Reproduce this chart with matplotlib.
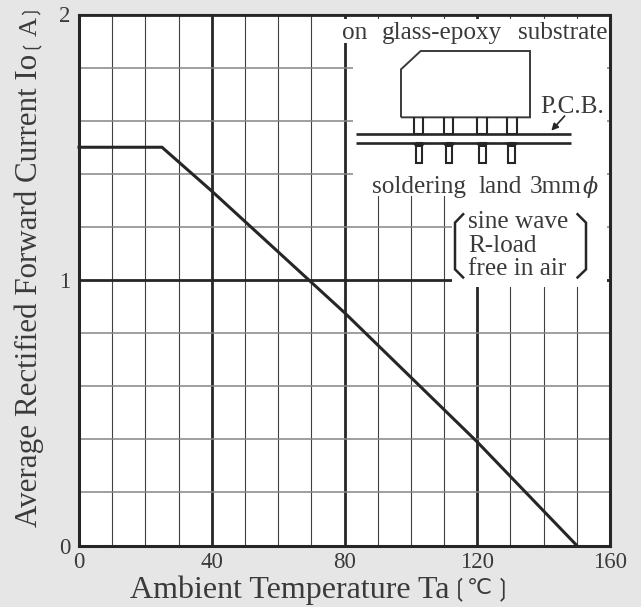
import matplotlib
matplotlib.use('Agg')
import matplotlib.pyplot as plt

temp = [0, 25, 40, 80, 120, 150]
current = [1.5, 1.5, 1.335, 0.877, 0.39, 0]
xticks = [0, 40, 80, 120, 160]
yticks = [0, 1, 2]
xminor = [10, 20, 30, 50, 60, 70, 90, 100, 110, 130, 140, 150]
yminor = [0.2, 0.4, 0.6, 0.8, 1.2, 1.4, 1.6, 1.8]

W, H = 641, 607
dark = '#262626'
txt = '#3a3a3a'
plt.rcParams['font.family'] = ['Liberation Serif', 'DejaVu Sans', 'Noto Sans CJK JP']

fig = plt.figure(figsize=(W / 100, H / 100), dpi=100, facecolor='#e6e6e6')
ax = fig.add_axes([79 / W, 1 - 545.5 / H, 531 / W, 531 / H])
ax.set_xlim(0, 160)
ax.set_ylim(0, 2)

ax.set_xticks(xticks)
ax.set_yticks(yticks)
ax.set_xticks(xminor, minor=True)
ax.set_yticks(yminor, minor=True)
ax.tick_params(which='both', length=0)
ax.tick_params(axis='x', pad=4.5, labelsize=16.5, labelcolor=txt)
ax.tick_params(axis='y', pad=6, labelsize=16.5, labelcolor=txt)
ax.grid(True, which='major', color=dark, lw=2)
ax.grid(True, which='minor', color='#404040', lw=0.8)
ax.set_axisbelow(True)

# some printed grid lines came out paler
for t in ax.xaxis.get_minor_ticks():
    if t.get_loc() in (20, 50, 70, 100, 150):
        t.gridline.set_color('#8c8c8c')
        t.gridline.set_linewidth(1.1)
for t in ax.yaxis.get_minor_ticks():
    if t.get_loc() < 1:
        t.gridline.set_color('#858585')
        t.gridline.set_linewidth(1.1)
    else:
        t.gridline.set_color('#555555')

for name, s in ax.spines.items():
    s.set_linewidth(1.5 if name == 'top' else 2.2)
    s.set_color(dark)

ax.plot(temp, current, color=dark, lw=2.2, solid_joinstyle='miter', clip_on=False, zorder=3)

# overlay in pixel coords for the inset drawing and notes
ov = fig.add_axes([0, 0, 1, 1], facecolor='none')
ov.set_xlim(0, W)
ov.set_ylim(H, 0)
ov.axis('off')

# white areas that hide the grid behind the notes
ov.fill_between([353, 606.5], 19, 196, color='white', lw=0)
ov.fill_between([452, 606.5], 196, 287, color='white', lw=0)
ov.fill_between([341, 353], 19, 43, color='white', lw=0)


def zx(v):
    return 330 + v / 3


def zy(v):
    return v / 3


def poly(xs, ys, lw=1.3, color='#3a3a3a', **kw):
    ov.plot([zx(v) for v in xs], [zy(v) for v in ys], color=color, lw=lw,
            solid_joinstyle='miter', solid_capstyle='butt', **kw)


# package body
poly([213, 213, 272, 600, 600, 213], [352, 208, 153, 153, 352, 352], lw=1.4)
# pins above and below the board
for a in [252, 342, 442, 532]:
    poly([a, a, a + 28, a + 28], [352, 402, 402, 352], lw=1.5, color=dark)
for a in [257, 347, 447, 535]:
    poly([a, a, a + 20, a + 20, a], [428, 490, 490, 428, 428], lw=1.5, color=dark)
    ov.fill([zx(a - 10), zx(a + 30), zx(a + 20), zx(a)],
            [zy(428), zy(428), zy(441), zy(441)], color=dark, lw=0)
# board
poly([78, 722], [402, 402], lw=1.9, color=dark)
poly([78, 722], [428, 428], lw=1.9, color=dark)
ov.annotate('', xy=(zx(664), zy(392)), xytext=(zx(704), zy(348)),
            arrowprops=dict(arrowstyle='-|>', color=dark, lw=1.2, mutation_scale=10,
                            shrinkA=0, shrinkB=0))
# brackets
poly([402, 375, 375, 402], [640, 668, 808, 835], lw=1.8, color=dark)
poly([740, 768, 768, 740], [640, 668, 808, 835], lw=1.8, color=dark)

note = dict(color=txt, fontsize=18.2, va='baseline')
ov.text(zx(37), zy(118), 'on', ha='left', **note)
ov.text(zx(157), zy(118), 'glass-epoxy', ha='left', **note)
ov.text(zx(833), zy(118), 'substrate', ha='right', **note)
ov.text(zx(630), zy(338), 'P.C.B.', ha='left', **note)
ov.text(zx(125), zy(578), 'soldering', ha='left', **note)
ov.text(zx(445), zy(578), 'land', ha='left', **note)
ov.text(zx(598), zy(578), '3mm', ha='left', **note)
ov.text(zx(758), zy(578), 'ϕ', ha='left', color=txt, fontsize=16, style='italic',
        va='baseline', family='DejaVu Serif')
ov.text(zx(415), zy(685), 'sine wave', ha='left', **note)
ov.text(zx(415), zy(755), 'R-load', ha='left', **note)
ov.text(zx(415), zy(825), 'free in air', ha='left', **note)

# axis titles, bracket parts placed apart like the print
ov.text(130, 598, 'Ambient Temperature Ta', ha='left', va='baseline', color=txt, fontsize=23)
ov.text(450, 590, '❲', ha='left', va='center', color=txt, fontsize=17)
ov.text(479, 590, '℃', ha='center', va='center', color=txt, fontsize=16)
ov.text(493, 590, '❳', ha='left', va='center', color=txt, fontsize=17)
ov.text(37, 527, 'Average Rectified Forward Current Io', ha='left', va='baseline', rotation=90,
        rotation_mode='anchor', color=txt, fontsize=22.3)
ov.text(27, 49, '❲', ha='left', va='center', rotation=90, rotation_mode='anchor', color=txt, fontsize=14)
ov.text(37, 26, 'A', ha='center', va='baseline', rotation=90, rotation_mode='anchor', color=txt, fontsize=19)
ov.text(27, 15, '❳', ha='left', va='center', rotation=90, rotation_mode='anchor', color=txt, fontsize=14)

fig.savefig('out.png', dpi=100, facecolor=fig.get_facecolor())
